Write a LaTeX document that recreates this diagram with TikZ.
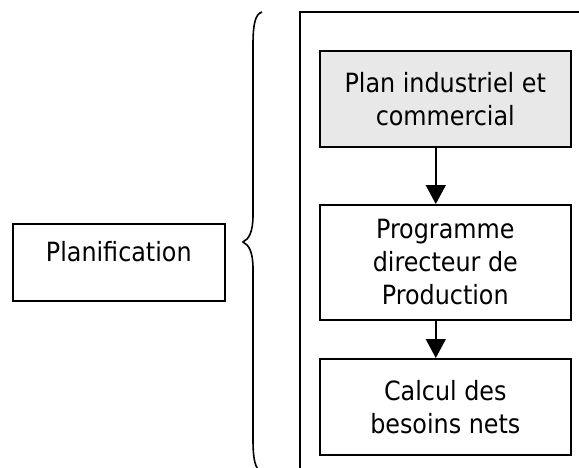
\documentclass[tikz,border=0pt]{standalone}
\usepackage{fontspec}
\setmainfont{DejaVu Sans Condensed}
\usetikzlibrary{arrows.meta}
\tikzset{
  box/.style={draw, line width=1.6pt, minimum width=251pt, align=center,
    font=\fontsize{26.5}{33}\selectfont, inner sep=0pt},
  flow/.style={line width=1.6pt, -{Triangle[width=20pt,length=19pt]}},
  frame/.style={line width=1.6pt},
}
\begin{document}
\begin{tikzpicture}[x=1pt,y=-1pt]
  \useasboundingbox (0,0) rectangle (579,467);
  \begin{scope}
    \clip (0,0) rectangle (579,467);
    % enclosing frame, running off the page to the right and bottom
    \draw[frame] (600,12) -- (300,12) -- (300,490);
    % curly brace grouping the chain
    \draw[line width=1.6pt]
      (262,12) .. controls (255,14) and (253,25) .. (253,45)
      -- (253,215) .. controls (253,232) and (249,239) .. (243,242)
      .. controls (249,245) and (253,252) .. (253,269)
      -- (253,439) .. controls (253,459) and (255,470) .. (262,472);
  \end{scope}

  % left label
  \node[box, minimum width=212pt, minimum height=77pt, anchor=north west,
        text depth=22pt] (plan) at (12,223) {Planification};

  % planning chain
  \node[box, fill=gray!18, minimum height=96pt, anchor=north west] (pic) at (319,50)
    {Plan industriel et\\commercial};
  \node[box, minimum height=115pt, anchor=north west] (pdp) at (319,204)
    {Programme\\directeur de\\Production};
  \node[box, minimum height=96pt, anchor=north west] (cbn) at (319,358)
    {Calcul des\\besoins nets};

  % connectors sit a little left of the box centres
  \draw[flow] ([xshift=-9.5pt]pic.south) -- ([xshift=-9.5pt]pdp.north);
  \draw[flow] ([xshift=-9.5pt]pdp.south) -- ([xshift=-9.5pt]cbn.north);
\end{tikzpicture}
\end{document}
